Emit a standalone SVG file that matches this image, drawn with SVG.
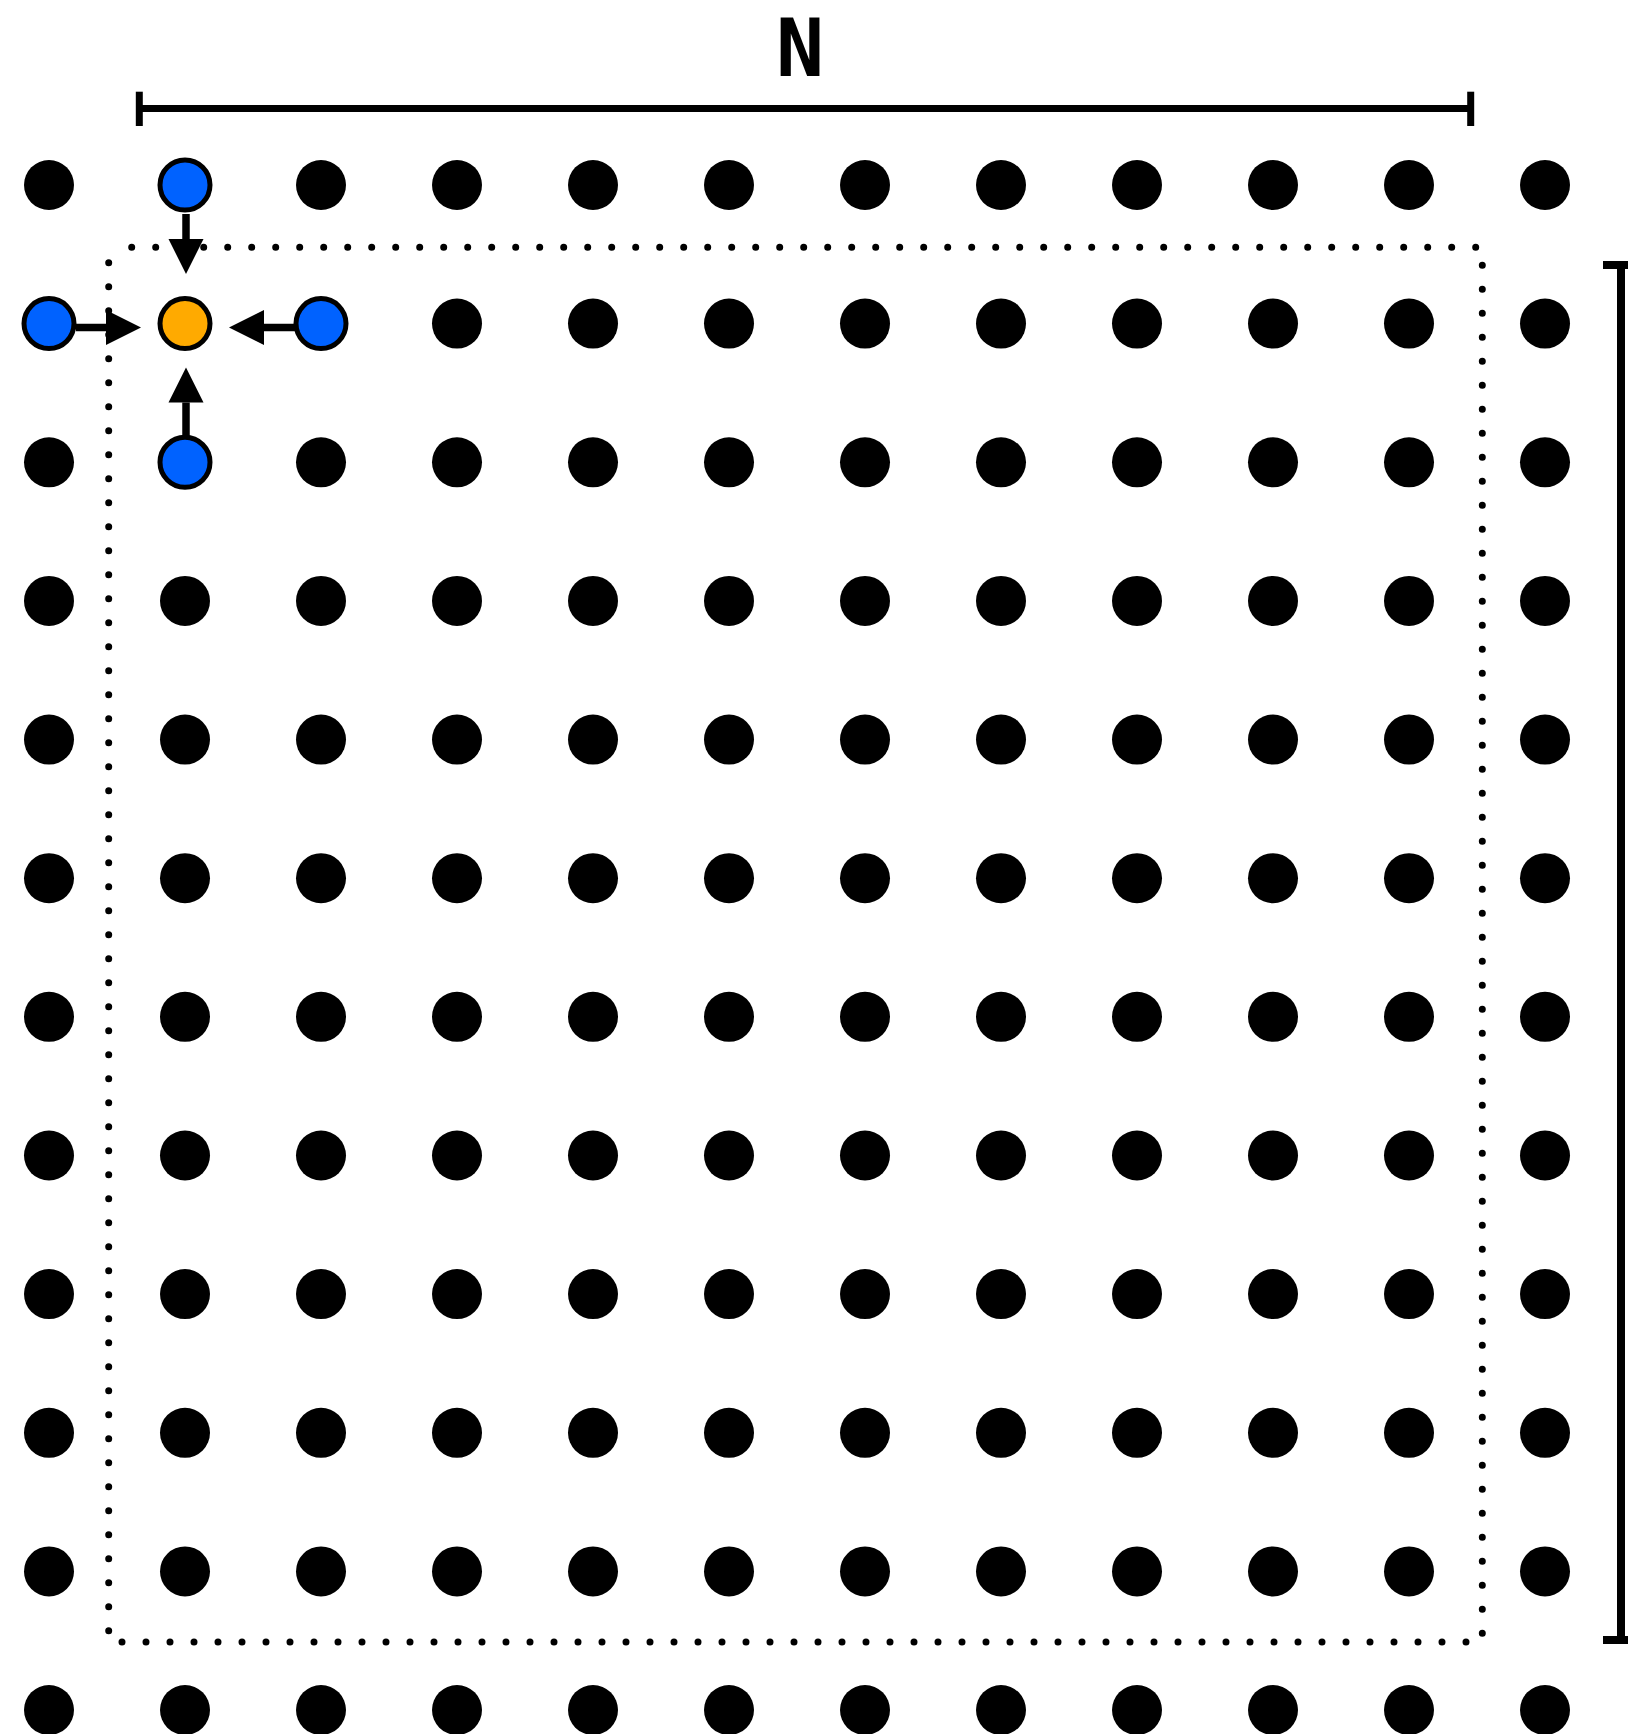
<svg xmlns="http://www.w3.org/2000/svg" width="1628" height="1734" viewBox="0 0 1628 1734">
<style>
.d{fill:#000}
.b{fill:#0062ff;stroke:#000;stroke-width:5}
.o{fill:#ffaa00;stroke:#000;stroke-width:5}
.br{stroke:#000;stroke-width:7;fill:none}
.dot{stroke:#000;stroke-width:7;stroke-linecap:round;stroke-dasharray:0 24;fill:none}
.ar{stroke:#000;stroke-width:7.5;fill:none;marker-end:url(#ah)}
.lbl{font-family:"DejaVu Sans Mono",monospace;font-weight:bold;font-size:80px;fill:#000}
</style>
<defs>
<marker id="ah" markerUnits="userSpaceOnUse" markerWidth="36" markerHeight="36" refX="0" refY="17.5" orient="auto" overflow="visible">
<path d="M0,0 L35,17.5 L0,35 Z" fill="#000"/>
</marker>
</defs>
<rect width="1628" height="1734" fill="#fff"/>
<g id="boundary">
<line class="dot" x1="131.7" y1="247.3" x2="1476" y2="247.3"/>
<line class="dot" x1="1482.3" y1="265.3" x2="1482.3" y2="1634"/>
<line class="dot" x1="122" y1="1642" x2="1467" y2="1642"/>
<line class="dot" x1="108.7" y1="262.7" x2="108.7" y2="1632"/>
</g>
<g id="dim-n">
<line class="br" x1="139" y1="108.5" x2="1471" y2="108.5"/>
<line class="br" x1="139.3" y1="91.7" x2="139.3" y2="126"/>
<line class="br" x1="1470.7" y1="91.7" x2="1470.7" y2="126"/>
<text class="lbl" x="800" y="76" text-anchor="middle">N</text>
</g>
<g id="dim-m">
<line class="br" style="stroke-width:8" x1="1621" y1="265" x2="1621" y2="1640"/>
<line class="br" style="stroke-width:8" x1="1603" y1="265" x2="1640" y2="265"/>
<line class="br" style="stroke-width:8" x1="1603" y1="1640" x2="1640" y2="1640"/>
</g>
<g id="grid">
<g id="row0"><circle class="d" cx="49" cy="185" r="25"/><circle class="d" cx="321" cy="185" r="25"/><circle class="d" cx="457" cy="185" r="25"/><circle class="d" cx="593" cy="185" r="25"/><circle class="d" cx="729" cy="185" r="25"/><circle class="d" cx="865" cy="185" r="25"/><circle class="d" cx="1001" cy="185" r="25"/><circle class="d" cx="1137" cy="185" r="25"/><circle class="d" cx="1273" cy="185" r="25"/><circle class="d" cx="1409" cy="185" r="25"/><circle class="d" cx="1545" cy="185" r="25"/></g>
<g id="row1"><circle class="d" cx="457" cy="323.6" r="25"/><circle class="d" cx="593" cy="323.6" r="25"/><circle class="d" cx="729" cy="323.6" r="25"/><circle class="d" cx="865" cy="323.6" r="25"/><circle class="d" cx="1001" cy="323.6" r="25"/><circle class="d" cx="1137" cy="323.6" r="25"/><circle class="d" cx="1273" cy="323.6" r="25"/><circle class="d" cx="1409" cy="323.6" r="25"/><circle class="d" cx="1545" cy="323.6" r="25"/></g>
<g id="row2"><circle class="d" cx="49" cy="462.3" r="25"/><circle class="d" cx="321" cy="462.3" r="25"/><circle class="d" cx="457" cy="462.3" r="25"/><circle class="d" cx="593" cy="462.3" r="25"/><circle class="d" cx="729" cy="462.3" r="25"/><circle class="d" cx="865" cy="462.3" r="25"/><circle class="d" cx="1001" cy="462.3" r="25"/><circle class="d" cx="1137" cy="462.3" r="25"/><circle class="d" cx="1273" cy="462.3" r="25"/><circle class="d" cx="1409" cy="462.3" r="25"/><circle class="d" cx="1545" cy="462.3" r="25"/></g>
<g id="row3"><circle class="d" cx="49" cy="600.9" r="25"/><circle class="d" cx="185" cy="600.9" r="25"/><circle class="d" cx="321" cy="600.9" r="25"/><circle class="d" cx="457" cy="600.9" r="25"/><circle class="d" cx="593" cy="600.9" r="25"/><circle class="d" cx="729" cy="600.9" r="25"/><circle class="d" cx="865" cy="600.9" r="25"/><circle class="d" cx="1001" cy="600.9" r="25"/><circle class="d" cx="1137" cy="600.9" r="25"/><circle class="d" cx="1273" cy="600.9" r="25"/><circle class="d" cx="1409" cy="600.9" r="25"/><circle class="d" cx="1545" cy="600.9" r="25"/></g>
<g id="row4"><circle class="d" cx="49" cy="739.6" r="25"/><circle class="d" cx="185" cy="739.6" r="25"/><circle class="d" cx="321" cy="739.6" r="25"/><circle class="d" cx="457" cy="739.6" r="25"/><circle class="d" cx="593" cy="739.6" r="25"/><circle class="d" cx="729" cy="739.6" r="25"/><circle class="d" cx="865" cy="739.6" r="25"/><circle class="d" cx="1001" cy="739.6" r="25"/><circle class="d" cx="1137" cy="739.6" r="25"/><circle class="d" cx="1273" cy="739.6" r="25"/><circle class="d" cx="1409" cy="739.6" r="25"/><circle class="d" cx="1545" cy="739.6" r="25"/></g>
<g id="row5"><circle class="d" cx="49" cy="878.2" r="25"/><circle class="d" cx="185" cy="878.2" r="25"/><circle class="d" cx="321" cy="878.2" r="25"/><circle class="d" cx="457" cy="878.2" r="25"/><circle class="d" cx="593" cy="878.2" r="25"/><circle class="d" cx="729" cy="878.2" r="25"/><circle class="d" cx="865" cy="878.2" r="25"/><circle class="d" cx="1001" cy="878.2" r="25"/><circle class="d" cx="1137" cy="878.2" r="25"/><circle class="d" cx="1273" cy="878.2" r="25"/><circle class="d" cx="1409" cy="878.2" r="25"/><circle class="d" cx="1545" cy="878.2" r="25"/></g>
<g id="row6"><circle class="d" cx="49" cy="1016.8" r="25"/><circle class="d" cx="185" cy="1016.8" r="25"/><circle class="d" cx="321" cy="1016.8" r="25"/><circle class="d" cx="457" cy="1016.8" r="25"/><circle class="d" cx="593" cy="1016.8" r="25"/><circle class="d" cx="729" cy="1016.8" r="25"/><circle class="d" cx="865" cy="1016.8" r="25"/><circle class="d" cx="1001" cy="1016.8" r="25"/><circle class="d" cx="1137" cy="1016.8" r="25"/><circle class="d" cx="1273" cy="1016.8" r="25"/><circle class="d" cx="1409" cy="1016.8" r="25"/><circle class="d" cx="1545" cy="1016.8" r="25"/></g>
<g id="row7"><circle class="d" cx="49" cy="1155.5" r="25"/><circle class="d" cx="185" cy="1155.5" r="25"/><circle class="d" cx="321" cy="1155.5" r="25"/><circle class="d" cx="457" cy="1155.5" r="25"/><circle class="d" cx="593" cy="1155.5" r="25"/><circle class="d" cx="729" cy="1155.5" r="25"/><circle class="d" cx="865" cy="1155.5" r="25"/><circle class="d" cx="1001" cy="1155.5" r="25"/><circle class="d" cx="1137" cy="1155.5" r="25"/><circle class="d" cx="1273" cy="1155.5" r="25"/><circle class="d" cx="1409" cy="1155.5" r="25"/><circle class="d" cx="1545" cy="1155.5" r="25"/></g>
<g id="row8"><circle class="d" cx="49" cy="1294.1" r="25"/><circle class="d" cx="185" cy="1294.1" r="25"/><circle class="d" cx="321" cy="1294.1" r="25"/><circle class="d" cx="457" cy="1294.1" r="25"/><circle class="d" cx="593" cy="1294.1" r="25"/><circle class="d" cx="729" cy="1294.1" r="25"/><circle class="d" cx="865" cy="1294.1" r="25"/><circle class="d" cx="1001" cy="1294.1" r="25"/><circle class="d" cx="1137" cy="1294.1" r="25"/><circle class="d" cx="1273" cy="1294.1" r="25"/><circle class="d" cx="1409" cy="1294.1" r="25"/><circle class="d" cx="1545" cy="1294.1" r="25"/></g>
<g id="row9"><circle class="d" cx="49" cy="1432.8" r="25"/><circle class="d" cx="185" cy="1432.8" r="25"/><circle class="d" cx="321" cy="1432.8" r="25"/><circle class="d" cx="457" cy="1432.8" r="25"/><circle class="d" cx="593" cy="1432.8" r="25"/><circle class="d" cx="729" cy="1432.8" r="25"/><circle class="d" cx="865" cy="1432.8" r="25"/><circle class="d" cx="1001" cy="1432.8" r="25"/><circle class="d" cx="1137" cy="1432.8" r="25"/><circle class="d" cx="1273" cy="1432.8" r="25"/><circle class="d" cx="1409" cy="1432.8" r="25"/><circle class="d" cx="1545" cy="1432.8" r="25"/></g>
<g id="row10"><circle class="d" cx="49" cy="1571.4" r="25"/><circle class="d" cx="185" cy="1571.4" r="25"/><circle class="d" cx="321" cy="1571.4" r="25"/><circle class="d" cx="457" cy="1571.4" r="25"/><circle class="d" cx="593" cy="1571.4" r="25"/><circle class="d" cx="729" cy="1571.4" r="25"/><circle class="d" cx="865" cy="1571.4" r="25"/><circle class="d" cx="1001" cy="1571.4" r="25"/><circle class="d" cx="1137" cy="1571.4" r="25"/><circle class="d" cx="1273" cy="1571.4" r="25"/><circle class="d" cx="1409" cy="1571.4" r="25"/><circle class="d" cx="1545" cy="1571.4" r="25"/></g>
<g id="row11"><circle class="d" cx="49" cy="1710" r="25"/><circle class="d" cx="185" cy="1710" r="25"/><circle class="d" cx="321" cy="1710" r="25"/><circle class="d" cx="457" cy="1710" r="25"/><circle class="d" cx="593" cy="1710" r="25"/><circle class="d" cx="729" cy="1710" r="25"/><circle class="d" cx="865" cy="1710" r="25"/><circle class="d" cx="1001" cy="1710" r="25"/><circle class="d" cx="1137" cy="1710" r="25"/><circle class="d" cx="1273" cy="1710" r="25"/><circle class="d" cx="1409" cy="1710" r="25"/><circle class="d" cx="1545" cy="1710" r="25"/></g>
</g>
<g id="connectors">
<line class="ar" x1="186" y1="214" x2="186" y2="239"/>
<line class="ar" x1="186" y1="436" x2="186" y2="402.5"/>
<line class="ar" x1="76" y1="327.5" x2="106" y2="327.5"/>
<line class="ar" x1="295" y1="327.5" x2="264" y2="327.5"/>
</g>
<g id="n-top"><circle class="b" cx="185" cy="185" r="25"/></g>
<g id="n-left"><circle class="b" cx="49" cy="323.6" r="25"/></g>
<g id="n-right"><circle class="b" cx="321" cy="323.6" r="25"/></g>
<g id="n-bottom"><circle class="b" cx="185" cy="462.3" r="25"/></g>
<g id="n-center"><circle class="o" cx="185" cy="323.6" r="25"/></g>
</svg>
